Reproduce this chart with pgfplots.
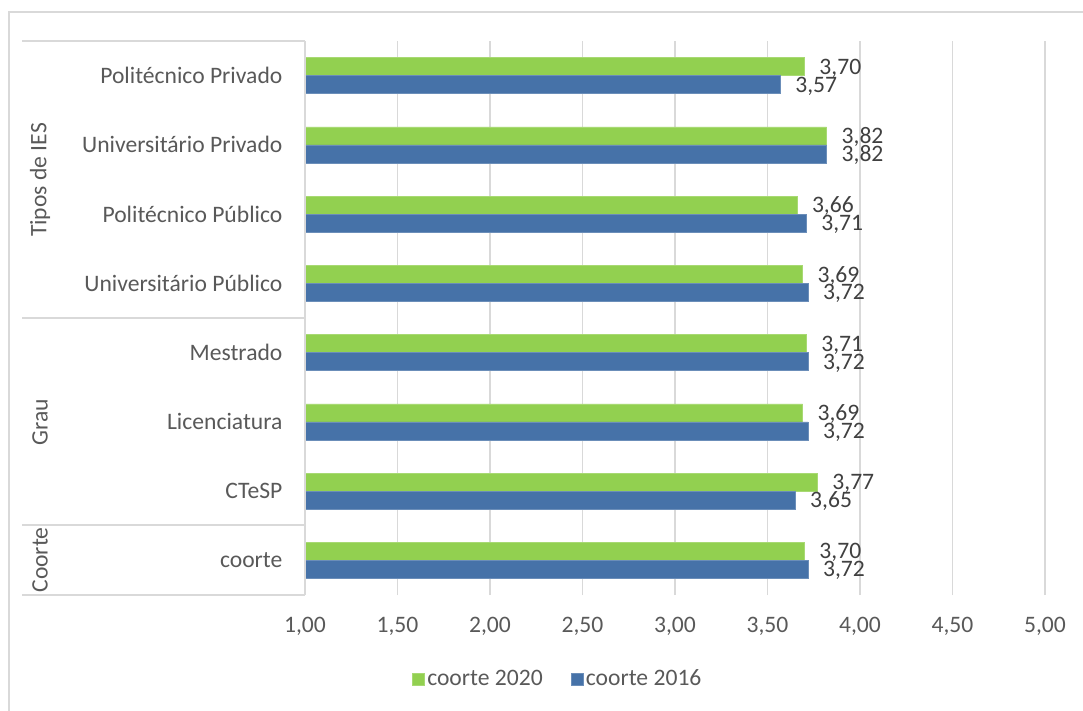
\documentclass[border=0pt]{standalone}
\usepackage{pgfplots}
\pgfplotsset{compat=1.18}
\usepackage{fontspec}
\setmainfont{Carlito}
\definecolor{cgreen}{HTML}{92D050}
\definecolor{cblue}{HTML}{4672A8}
\definecolor{gridc}{HTML}{D9D9D9}
\definecolor{labelc}{HTML}{595959}
\definecolor{datac}{HTML}{404040}
\newcommand\f{\fontsize{17.7pt}{21pt}\selectfont}
\begin{document}
\begin{tikzpicture}
\useasboundingbox (0,0) rectangle (812.25pt,-533.25pt);
\draw[gridc, line width=1.1pt] (6.75pt,-540pt) -- (6.75pt,-9pt) -- (820pt,-9pt);
\begin{axis}[
 at={(228.75pt,-446.25pt)}, anchor=south west,
 width=555pt, height=415.5pt, scale only axis,
 xbar, bar width=0.26,
 xmin=1, xmax=5, ymin=-0.5, ymax=7.5,
 xtick={1,1.5,2,2.5,3,3.5,4,4.5,5},
 ytick={0,1,2,3,4,5,6,7},
 yticklabels={coorte, CTeSP, Licenciatura, Mestrado, Universitário Público, Politécnico Público, Universitário Privado, Politécnico Privado},
 xmajorgrids, major grid style={gridc, line width=1.1pt},
 axis line style={draw=none},
 tick style={draw=none},
 xticklabel style={font=\f, text=labelc, anchor=center, yshift=-23.25pt, /pgf/number format/.cd, fixed, fixed zerofill, precision=2, use comma, assume math mode=true},
 yticklabel style={font=\f, text=labelc, anchor=east, inner sep=0pt, xshift=-12.5pt},
 point meta=x,
 nodes near coords={\pgfmathprintnumber[fixed,fixed zerofill,precision=2,use comma,assume math mode=true]{\pgfplotspointmeta}},
 every node near coord/.append style={font=\f, text=datac, anchor=west, inner sep=0pt, xshift=11pt, yshift=-1pt},
 legend style={draw=none, fill=none, at={(0.342,-0.1516)}, anchor=center, legend columns=2, font=\f, text=labelc, /tikz/every even column/.append style={column sep=19pt}},
 legend cell align=left,
 legend image code/.code={\fill[#1] (0pt,-4.5pt) rectangle (9pt,4.5pt);},
]
\addplot[fill=cgreen, draw=cgreen!80!white, bar shift=0.13] coordinates {(3.70,0) (3.77,1) (3.69,2) (3.71,3) (3.69,4) (3.66,5) (3.82,6) (3.70,7)};
\addplot[fill=cblue, draw=cblue!80!white, bar shift=-0.13] coordinates {(3.72,0) (3.65,1) (3.72,2) (3.72,3) (3.72,4) (3.71,5) (3.82,6) (3.57,7)};
\legend{coorte 2020, coorte 2016}
\end{axis}
\draw[gridc, line width=1.1pt] (228.75pt,-30.75pt) -- (228.75pt,-446.25pt);
\foreach \yy in {30.75,238.5,393.75,446.25} {\draw[gridc, line width=1.1pt] (16.5pt,-\yy pt) -- (228.75pt,-\yy pt);}
\node[rotate=90, text=labelc, font=\f] at (30pt,-135pt) {Tipos de IES};
\node[rotate=90, text=labelc, font=\f] at (30pt,-316.5pt) {Grau};
\node[rotate=90, text=labelc, font=\f] at (30pt,-420pt) {Coorte};
\end{tikzpicture}
\end{document}
